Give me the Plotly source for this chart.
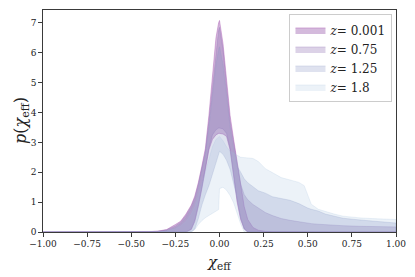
import plotly.graph_objects as go

# ---- data ----
chi = [-1.00, -0.45, -0.40, -0.35, -0.30, -0.25, -0.22, -0.19, -0.16, -0.14, -0.12, -0.10,
       -0.08, -0.06, -0.04, -0.02, -0.005, 0.00, 0.02, 0.04, 0.06, 0.08, 0.10, 0.12,
       0.14, 0.16, 0.19, 0.22, 0.26, 0.30, 0.35, 0.40, 0.45, 0.48, 0.50, 0.52,
       0.56, 0.60, 0.65, 0.70, 0.80, 0.90, 1.00]

upper_z0001 = [0, 0, 0.01, 0.03, 0.08, 0.25, 0.36, 0.60, 0.90, 1.20, 1.65, 2.20,
               2.80, 3.90, 5.20, 6.50, 7.00, 7.08, 6.30, 5.00, 3.90, 3.10, 2.30, 1.55,
               0.85, 0.42, 0.15, 0.06, 0.02, 0.01, 0.005, 0, 0, 0, 0, 0,
               0, 0, 0, 0, 0, 0, 0]
lower_z0001 = [0, 0, 0, 0, 0, 0, 0, 0, 0.08, 0.35, 0.85, 1.45,
               2.05, 2.75, 3.10, 3.25, 3.30, 3.30, 3.28, 3.20, 2.75, 1.85, 1.00, 0.41,
               0.10, 0, 0, 0, 0, 0, 0, 0, 0, 0, 0, 0,
               0, 0, 0, 0, 0, 0, 0]

upper_z075 = [0, 0, 0.01, 0.02, 0.07, 0.20, 0.33, 0.55, 0.85, 1.15, 1.60, 2.15,
              2.70, 3.70, 4.90, 6.10, 6.75, 6.85, 6.10, 4.85, 3.70, 3.00, 2.30, 1.60,
              1.25, 1.08, 0.92, 0.80, 0.65, 0.55, 0.45, 0.39, 0.34, 0.31, 0.30, 0.28,
              0.26, 0.24, 0.22, 0.21, 0.19, 0.18, 0.17]
lower_z075 = [0, 0, 0, 0, 0, 0, 0, 0, 0.10, 0.40, 0.90, 1.50,
              2.10, 2.80, 3.25, 3.42, 3.48, 3.48, 3.45, 3.30, 2.80, 1.90, 1.05, 0.45,
              0.12, 0, 0, 0, 0, 0, 0, 0, 0, 0, 0, 0,
              0, 0, 0, 0, 0, 0, 0]

upper_z125 = [0, 0, 0, 0.01, 0.05, 0.15, 0.28, 0.48, 0.78, 1.05, 1.50, 2.00,
              2.60, 3.50, 4.60, 5.60, 6.10, 6.20, 5.60, 4.50, 3.50, 2.80, 2.20, 2.00,
              1.78, 1.65, 1.50, 1.38, 1.30, 1.18, 1.12, 1.06, 0.95, 0.85, 0.80, 0.76,
              0.70, 0.60, 0.52, 0.46, 0.40, 0.34, 0.30]
lower_z125 = [0, 0, 0, 0, 0, 0, 0, 0, 0, 0.10, 0.45, 0.90,
              1.25, 1.55, 1.95, 2.30, 2.60, 2.70, 2.60, 2.40, 2.10, 1.65, 1.15, 0.50,
              0.10, 0, 0, 0, 0, 0, 0, 0, 0, 0, 0, 0,
              0, 0, 0, 0, 0, 0, 0]

upper_z18 = [0, 0, 0, 0, 0.03, 0.10, 0.20, 0.35, 0.60, 0.85, 1.20, 1.60,
             2.00, 2.45, 2.85, 3.10, 3.20, 3.20, 3.05, 2.85, 2.70, 2.62, 2.57, 2.50,
             2.48, 2.48, 2.46, 2.36, 2.12, 1.98, 1.82, 1.74, 1.66, 1.55, 1.22, 0.93,
             0.76, 0.68, 0.60, 0.53, 0.47, 0.44, 0.42]
lower_z18 = [0, 0, 0, 0, 0, 0, 0, 0, 0, 0.08, 0.25, 0.38,
             0.48, 0.56, 0.63, 0.70, 0.75, 1.45, 1.50, 1.40, 1.22, 0.98, 0.65, 0.27,
             0, 0, 0, 0, 0, 0, 0, 0, 0, 0, 0, 0,
             0, 0, 0, 0, 0, 0, 0]

labels = ["0.001", "0.75", "1.25", "1.8"]
uppers = [upper_z0001, upper_z075, upper_z125, upper_z18]
lowers = [lower_z0001, lower_z075, lower_z125, lower_z18]

x_ticks = [-1.00, -0.75, -0.50, -0.25, 0.00, 0.25, 0.50, 0.75, 1.00]
y_ticks = [0, 1, 2, 3, 4, 5, 6, 7]
x_title = "<i>χ</i><sub>eff</sub>"
y_title = "<i>p</i>(<i>χ</i><sub>eff</sub>)"

# ---- style ----
fill_colors = ["rgba(136,65,157,0.36)", "rgba(140,107,177,0.30)",
               "rgba(140,150,198,0.28)", "rgba(158,188,218,0.20)"]
line_colors = ["rgba(170,90,180,0.55)", "rgba(140,107,177,0.35)",
               "rgba(140,150,198,0.30)", "rgba(158,188,218,0.25)"]
FONT = "DejaVu Serif"

fig = go.Figure()
for lab, up, lo, fc, lc in zip(labels, uppers, lowers, fill_colors, line_colors):
    fig.add_trace(go.Scatter(
        x=chi + chi[::-1],
        y=up + lo[::-1],
        mode="lines",
        fill="toself",
        fillcolor=fc,
        line=dict(color=lc, width=0.8),
        name=f"<i>z</i>= {lab}",
        hoverinfo="skip",
    ))

axis_common = dict(
    showline=True, linecolor="#3a3a3a", linewidth=1.2, mirror=True,
    ticks="outside", ticklen=3.5, tickwidth=1, tickcolor="#3a3a3a",
    showgrid=False, zeroline=False, automargin=False,
    tickfont=dict(family=FONT, size=9, color="#222"),
)

# the page body adds an 8 px offset; margins are reduced by it
fig.update_layout(
    width=407, height=269,
    margin=dict(l=35, r=19, t=2, b=45),
    plot_bgcolor="white", paper_bgcolor="white",
    font=dict(family=FONT, color="#222"),
    xaxis=dict(range=[-1, 1], tickvals=x_ticks, tickformat=".2f", **axis_common),
    yaxis=dict(range=[0, 7.43], tickvals=y_ticks, **axis_common),
    legend=dict(x=0.99, y=0.98, xanchor="right", yanchor="top",
                bgcolor="rgba(255,255,255,0.85)", bordercolor="#cccccc", borderwidth=1,
                font=dict(family=FONT, size=12), itemwidth=30, tracegroupgap=2),
    showlegend=True,
    annotations=[
        dict(text=x_title, xref="paper", yref="paper", x=0.5, y=0,
             xanchor="center", yanchor="middle", yshift=-30, showarrow=False,
             font=dict(family=FONT, size=15, color="#222")),
        dict(text=y_title, xref="paper", yref="paper", x=0, y=0.5,
             xanchor="center", yanchor="middle", xshift=-22, textangle=-90,
             showarrow=False, font=dict(family=FONT, size=16, color="#222")),
    ],
)

fig.write_html("out.html")
